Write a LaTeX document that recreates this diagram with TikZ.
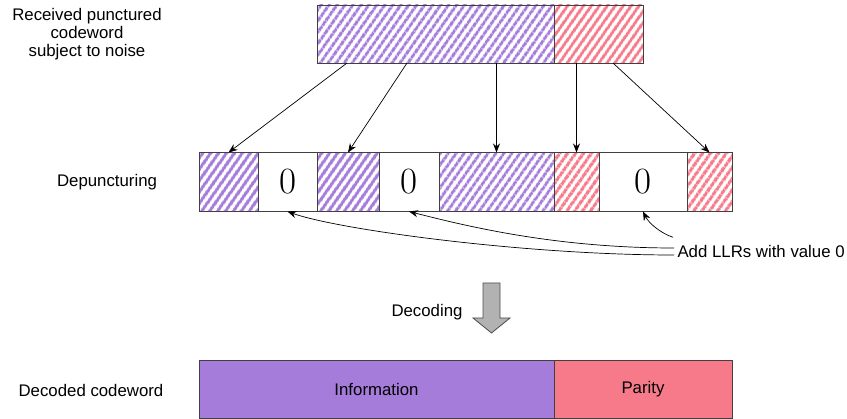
\documentclass[tikz,border=0pt]{standalone}
\usepackage{fontspec}
\setsansfont{Liberation Sans}
\usetikzlibrary{positioning,patterns.meta,arrows.meta}
\definecolor{infopurple}{HTML}{A67CDA}
\definecolor{parityred}{HTML}{F67A8A}

\begin{document}
\begin{tikzpicture}[x=1pt,y=-1pt,
  bar/.style={draw=black!75,line width=0.8pt,inner sep=0pt,outer sep=0pt,minimum height=59pt},
  infohatch/.style={bar,pattern={Lines[angle=55,distance=6.5pt,line width=3.6pt]},pattern color=infopurple},
  parhatch/.style={bar,pattern={Lines[angle=55,distance=6.5pt,line width=3.6pt]},pattern color=parityred},
  zerocell/.style={bar,fill=white,font=\rmfamily\fontsize{37}{37}\selectfont},
  link/.style={-{Stealth[length=9pt,width=7pt]},line width=0.7pt}]
\tikzstyle{every node}=[font=\sffamily\fontsize{16.8}{18}\selectfont]
\useasboundingbox (0,0) rectangle (847,419);

% received word
\node[infohatch,minimum width=237pt,minimum height=58pt] (tinfo) at (435.5,34) {};
\node[parhatch,minimum width=89pt,minimum height=58pt,right=0pt of tinfo] (tpar) {};
\node[align=center] (recv) at (87,34) {Received punctured\\codeword\\subject to noise};

% depunctured word
\node[infohatch,minimum width=59pt] (m1) at (228.5,182) {};
\node[zerocell,minimum width=59pt,right=0pt of m1] (m2) {0};
\node[infohatch,minimum width=62pt,right=0pt of m2] (m3) {};
\node[zerocell,minimum width=60pt,right=0pt of m3] (m4) {0};
\node[infohatch,minimum width=115pt,right=0pt of m4] (m5) {};
\node[parhatch,minimum width=45pt,right=0pt of m5] (m6) {};
\node[zerocell,minimum width=88pt,right=0pt of m6] (m7) {0};
\node[parhatch,minimum width=45pt,right=0pt of m7] (m8) {};
\node (depunc) at (107,182) {Depuncturing};

\draw[link] ([xshift=30pt]tinfo.south west) -- (m1.north);
\draw[link] ([xshift=90pt]tinfo.south west) -- (m3.north);
\draw[link] (m5.north |- tinfo.south) -- (m5.north);
\draw[link] (m6.north |- tpar.south) -- (m6.north);
\draw[link] ([xshift=59pt]tpar.south west) -- (m8.north);

% zero LLRs
\node[anchor=west] (llr) at (674,251) {Add LLRs with value 0};
\draw[link] ([yshift=-4pt]llr.west) .. controls +(-150,0) and +(50,18) .. (m2.south);
\draw[link] ([yshift=3pt]llr.west) .. controls +(-120,0) and +(55,14) .. (m4.south);
\draw[link] ([xshift=-1pt,yshift=4pt]llr.north west) .. controls +(-12,-4) and +(6,12) .. (m7.south);

% decoding
\node (deco) at (427,312) {Decoding};
\draw[draw=black!70,fill=black!30,line width=0.8pt] (483,283) -- (500,283) -- (500,318) -- (510,318)
  -- (491.5,333) -- (473,318) -- (483,318) -- cycle;

% decoded word
\node[bar,fill=infopurple,minimum width=355pt,minimum height=58pt] (binfo) at (376.5,389.5) {Information};
\node[bar,fill=parityred,minimum width=178pt,minimum height=58pt,right=0pt of binfo] (bpar) {Parity};
\node (decd) at (91,390) {Decoded codeword};
\end{tikzpicture}
\end{document}
